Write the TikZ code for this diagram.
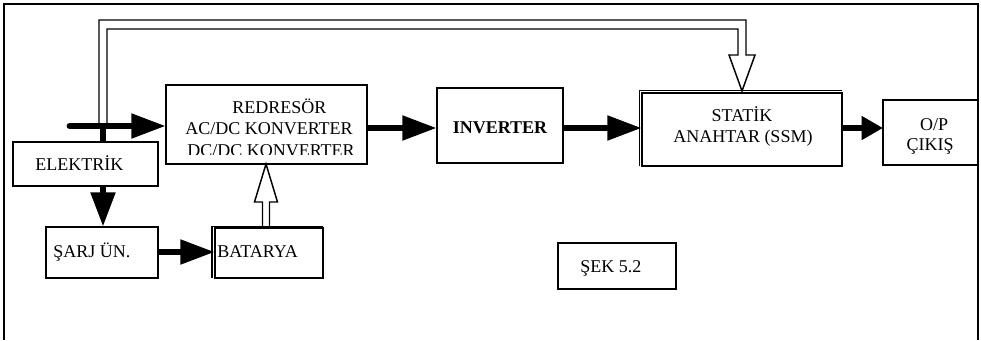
\documentclass[tikz,border=0pt]{standalone}
\usepackage{fontspec}
\setmainfont{Liberation Serif}
\usetikzlibrary{arrows.meta,fit,calc,backgrounds}

% a framed block given by its top-left and bottom-right corners
\newcommand\blockbox[5]{%
  \coordinate (#1-nw) at (#2,#3);
  \coordinate (#1-se) at (#4,#5);
  \node[box, fit=(#1-nw)(#1-se)] (#1) {};}

\begin{document}
\begin{tikzpicture}[x=0.75pt,y=-0.75pt,
  font=\fontsize{13.5}{16}\selectfont,
  box/.style={draw, line width=1.4pt, fill=white, inner sep=0pt, outer sep=0pt},
  lbl/.style={inner sep=0pt, anchor=base},
  lblw/.style={inner sep=0pt, anchor=base west},
  fat/.style={line width=5.2pt, -{Triangle[length=26pt,width=17.5pt]}},
  fatshort/.style={line width=5.2pt, -{Triangle[length=16pt,width=17pt]}},
  hollow/.style={line width=1.1pt, line join=miter}]
\useasboundingbox (0,0) rectangle (981,340);

% outer frame, open at the bottom
\draw[line width=1.3pt] (4,340) -- (4,4) -- (978,4) -- (978,340);

% blocks
\blockbox{elek}{13}{142}{158}{186}
\blockbox{red}{166}{85}{367}{164}
\blockbox{inv}{437}{88}{563}{163}
\blockbox{stat}{642}{93}{842}{166}
\blockbox{out}{883}{100}{978}{165}
\blockbox{sarj}{46}{227}{158}{278}
\blockbox{bat}{215}{228}{323}{278}
\blockbox{sek}{558}{243}{676}{289}

% doubled edges on two blocks
\draw[line width=1.1pt] (639.5,166) -- (639.5,90.5) -- (842,90.5);
\draw[line width=1.1pt] (212,278) -- (212,226.5) -- (323,226.5);

% labels
\node[lblw] (elekT) at (35,170) {ELEKTR\.IK};
\begin{scope}
  \clip (167,86) rectangle (366,154.5);
  \node[lblw] (redA) at (232,113) {REDRESÖR};
  \node[lblw] (redB) at (185,134.5) {AC/DC KONVERTER};
  \node[lblw] (redC) at (187,156) {DC/DC KONVERTER};
\end{scope}
\node[lbl, font=\fontsize{13.5}{16}\selectfont\bfseries] (invT) at (500,133.5) {INVERTER};
\node[lbl] (statA) at (742,121) {STAT\.IK};
\node[lbl] (statB) at (743,142) {ANAHTAR (SSM)};
\node[lbl] (outA) at (934,130) {O/P};
\node[lbl] (outB) at (930,150) {ÇIKIŞ};
\node[lblw] (sarjT) at (53,257) {ŞARJ ÜN.};
\node[lblw] (batT) at (217,257) {BATARYA};
\node[lblw] (sekT) at (580,272) {ŞEK 5.2};

\begin{scope}[on background layer]
  \coordinate (jn) at (103,126);
  \coordinate (src) at (70,126);
  % mains input into the rectifier
  \draw[fat, line cap=round] (src) -- (red.west |- jn);
  % mains down to the charger
  \draw[fat] (jn) -- (jn |- sarj.north);
\end{scope}

% power path
\draw[fat] (red.east |- 0,128) -- (inv.west |- 0,128);
\draw[fat] (inv.east |- 0,128) -- (stat.west |- 0,128);
\draw[fatshort] (stat.east |- 0,128) -- (out.west |- 0,128);
\draw[fat] (sarj.east |- 0,252) -- (bat.west |- 0,252);

% battery feeding the rectifier block (hollow arrow)
\coordinate (hb) at ($(bat.north)+(-3,-1)$);
\draw[hollow] ($(hb)+(-3.5,0)$) -- ++(0,-25) -- ++(-8,0) -- (hb |- red.south)
  -- ($(hb)+(11.5,-25)$) -- ++(-8,0) -- ++(0,25);

% bypass line to the static switch (hollow double arrow)
\draw[hollow] ($(jn)+(-4,0)$) |- ($(stat.north)+(4,-73)$) -- ++(0,35) -- ++(9,0)
  -- ($(stat.north)+(0,-2)$) -- ($(stat.north)+(-13,-38)$) -- ++(9,0)
  -- ++(0,-26) -| ($(jn)+(4,0)$);
\end{tikzpicture}
\end{document}
